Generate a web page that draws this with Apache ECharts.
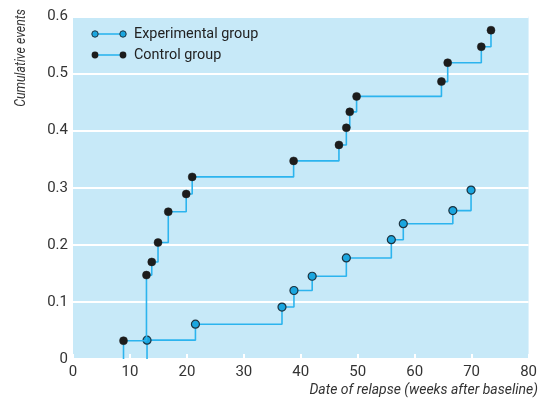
<!DOCTYPE html>
<html>
<head>
<meta charset="utf-8">
<script src="https://cdn.jsdelivr.net/npm/echarts@6/dist/echarts.min.js"></script>
<style>html,body{margin:0;padding:0;background:#fff}#c{width:540px;height:400px}</style>
</head>
<body>
<div id="c"></div>
<script>
var FONT = "'Liberation Sans Narrow', 'Roboto', 'Liberation Sans', sans-serif";
var xTicks = [0, 10, 20, 30, 40, 50, 60, 70, 80];
var yTicks = [0, 0.1, 0.2, 0.3, 0.4, 0.5, 0.6];
var expName = "Experimental group";
var ctrlName = "Control group";
var expX = [13, 21.5, 36.7, 38.8, 42.0, 48.0, 55.9, 58.0, 66.7, 69.9];
var expY = [0.033, 0.061, 0.091, 0.120, 0.145, 0.177, 0.209, 0.237, 0.260, 0.296];
var ctrlX = [8.87, 12.9, 13.83, 14.93, 16.73, 19.88, 20.93, 38.74, 46.7, 48.0, 48.6, 49.8, 64.7, 65.8, 71.7, 73.4];
var ctrlY = [0.032, 0.147, 0.170, 0.204, 0.258, 0.289, 0.319, 0.347, 0.375, 0.405, 0.433, 0.460, 0.486, 0.519, 0.547, 0.576];

function build(xs, ys) {
  var d = [{ value: [xs[0], 0], symbol: 'none' }];
  for (var i = 0; i < xs.length; i++) d.push([xs[i], ys[i]]);
  return d;
}
var LINE = '#2cb4ee';
var chart = echarts.init(document.getElementById('c'));
chart.setOption({
  animation: false,
  grid: { left: 73, top: 16.5, width: 458, height: 342.5, show: true, backgroundColor: '#c7e9f8', borderWidth: 0 },
  xAxis: {
    type: 'value', min: 0, max: 80, interval: 10,
    axisLine: { show: false },
    axisTick: { show: true, inside: true, length: 5, lineStyle: { color: '#ffffff', width: 2 } },
    splitLine: { show: false },
    axisLabel: { color: '#333', fontSize: 15, fontFamily: FONT, margin: 6 }
  },
  yAxis: {
    type: 'value', min: 0, max: 0.6, interval: 0.1,
    axisLine: { show: false },
    axisTick: { show: false },
    splitLine: { show: true, lineStyle: { color: '#ffffff', width: 2 } },
    axisLabel: { color: '#333', fontSize: 15, fontFamily: FONT, margin: 5,
      formatter: function (v) { return v === 0 ? '0' : v.toFixed(1); } }
  },
  series: [
    { name: expName, type: 'line', step: 'end', data: build(expX, expY),
      symbol: 'circle', symbolSize: 8, showAllSymbol: true,
      lineStyle: { color: LINE, width: 1.6 },
      itemStyle: { color: '#1aa6df', borderColor: '#1d3340', borderWidth: 1.2 }, z: 2 },
    { name: ctrlName, type: 'line', step: 'end', data: build(ctrlX, ctrlY),
      symbol: 'circle', symbolSize: 8, showAllSymbol: true,
      lineStyle: { color: LINE, width: 1.6 },
      itemStyle: { color: '#1c1c1c', borderColor: '#1c1c1c', borderWidth: 0.5 }, z: 3 }
  ],
  graphic: [
    { type: 'line', shape: { x1: 95, y1: 34, x2: 123, y2: 34 }, style: { stroke: LINE, lineWidth: 1.6 }, z: 10 },
    { type: 'circle', shape: { cx: 95, cy: 34, r: 3.2 }, style: { fill: '#1aa6df', stroke: '#1d3340', lineWidth: 1 }, z: 11 },
    { type: 'circle', shape: { cx: 123, cy: 34, r: 3.2 }, style: { fill: '#1aa6df', stroke: '#1d3340', lineWidth: 1 }, z: 11 },
    { type: 'text', x: 134, y: 34, scaleX: 0.96, style: { text: expName, fill: '#222', font: '15px ' + FONT, textVerticalAlign: 'middle' }, z: 11 },
    { type: 'line', shape: { x1: 95, y1: 55, x2: 123, y2: 55 }, style: { stroke: LINE, lineWidth: 1.6 }, z: 10 },
    { type: 'circle', shape: { cx: 95, cy: 55, r: 3.4 }, style: { fill: '#1c1c1c' }, z: 11 },
    { type: 'circle', shape: { cx: 123, cy: 55, r: 3.4 }, style: { fill: '#1c1c1c' }, z: 11 },
    { type: 'text', x: 134, y: 55, scaleX: 0.96, style: { text: ctrlName, fill: '#222', font: '15px ' + FONT, textVerticalAlign: 'middle' }, z: 11 },
    { type: 'text', x: 21, y: 58, rotation: Math.PI / 2, scaleX: 0.88, style: { text: 'Cumulative events', fill: '#333', font: 'italic 14px ' + FONT, textAlign: 'center', textVerticalAlign: 'middle' } },
    { type: 'text', x: 538, y: 390, style: { text: 'Date of relapse (weeks after baseline)', fill: '#333', font: 'italic 14px ' + FONT, textAlign: 'right', textVerticalAlign: 'middle' } }
  ]
});
</script>
</body>
</html>
